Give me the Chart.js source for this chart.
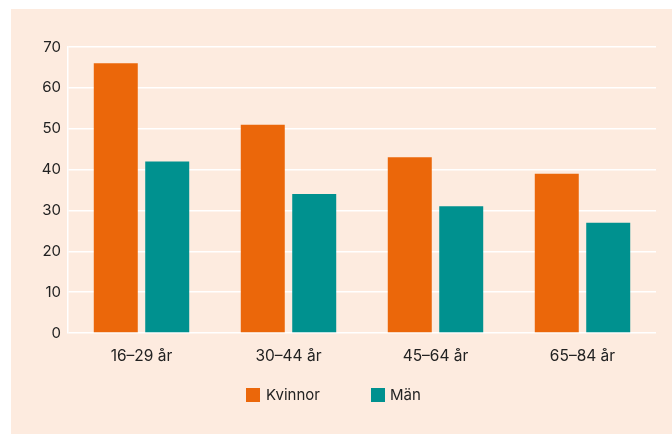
<!DOCTYPE html>
<html>
<head>
<meta charset="utf-8">
<script src="https://cdn.jsdelivr.net/npm/chart.js@4/dist/chart.umd.min.js"></script>
<style>
	html, body { margin: 0; padding: 0; background: #fff; }
	#wrap { position: absolute; left: 11px; top: 9px; width: 661px; height: 425px; background: #fdebdf; }
	#myChart { position: absolute; left: 0; top: 0; }
	.lg-box { position: absolute; width: 14px; height: 14px; }
	.lg-text { position: absolute; font: 15px Inter, sans-serif; color: #222; line-height: 18px; }
</style>
</head>
<body>
<div id="wrap">
	<canvas id="myChart" width="661" height="425"></canvas>
	<div class="lg-box" style="left:235px; top:379px; background:#eb670a;"></div>
	<div class="lg-text" style="left:255px; top:377px;">Kvinnor</div>
	<div class="lg-box" style="left:360px; top:379px; background:#00918f;"></div>
	<div class="lg-text" style="left:379px; top:377px;">Män</div>
</div>
<script>
const labels = ['16–29 år', '30–44 år', '45–64 år', '65–84 år'];
const kvinnor = [66, 51, 43, 39];
const man = [42, 34, 31, 27];
const yTicks = [0, 10, 20, 30, 40, 50, 60, 70];

const data = {
	labels,
	datasets: [{
		label: 'Kvinnor',
		backgroundColor: '#eb670a',
		data: kvinnor,
	}, {
		label: 'Män',
		backgroundColor: '#00918f',
		data: man,
	}],
};

const config = {
	type: 'bar',
	data,
	options: {
		responsive: false,
		animation: false,
		layout: { padding: { left: 0, right: 16, top: 38, bottom: 0 } },
		datasets: { bar: { categoryPercentage: 0.7, barPercentage: 0.855 } },
		plugins: {
			legend: { display: false },
			tooltip: { enabled: false },
		},
		scales: {
			x: {
				grid: { display: false },
				border: { display: false },
				ticks: { color: '#222', font: { family: 'Inter', size: 15.5 }, padding: 6, maxRotation: 0 },
				afterFit(scale) { scale.height = 101; },
			},
			y: {
				min: 0,
				max: 70,
				afterBuildTicks(scale) { scale.ticks = yTicks.map(v => ({ value: v })); },
				grid: { color: '#ffffff', lineWidth: 1.5, drawTicks: false },
				border: { color: '#ffffff', width: 1.5 },
				ticks: { color: '#222', font: { family: 'Inter', size: 15 }, padding: 7 },
				afterFit(scale) { scale.width = 57; },
			},
		},
	},
};

new Chart(document.getElementById('myChart'), config);
</script>
</body>
</html>
